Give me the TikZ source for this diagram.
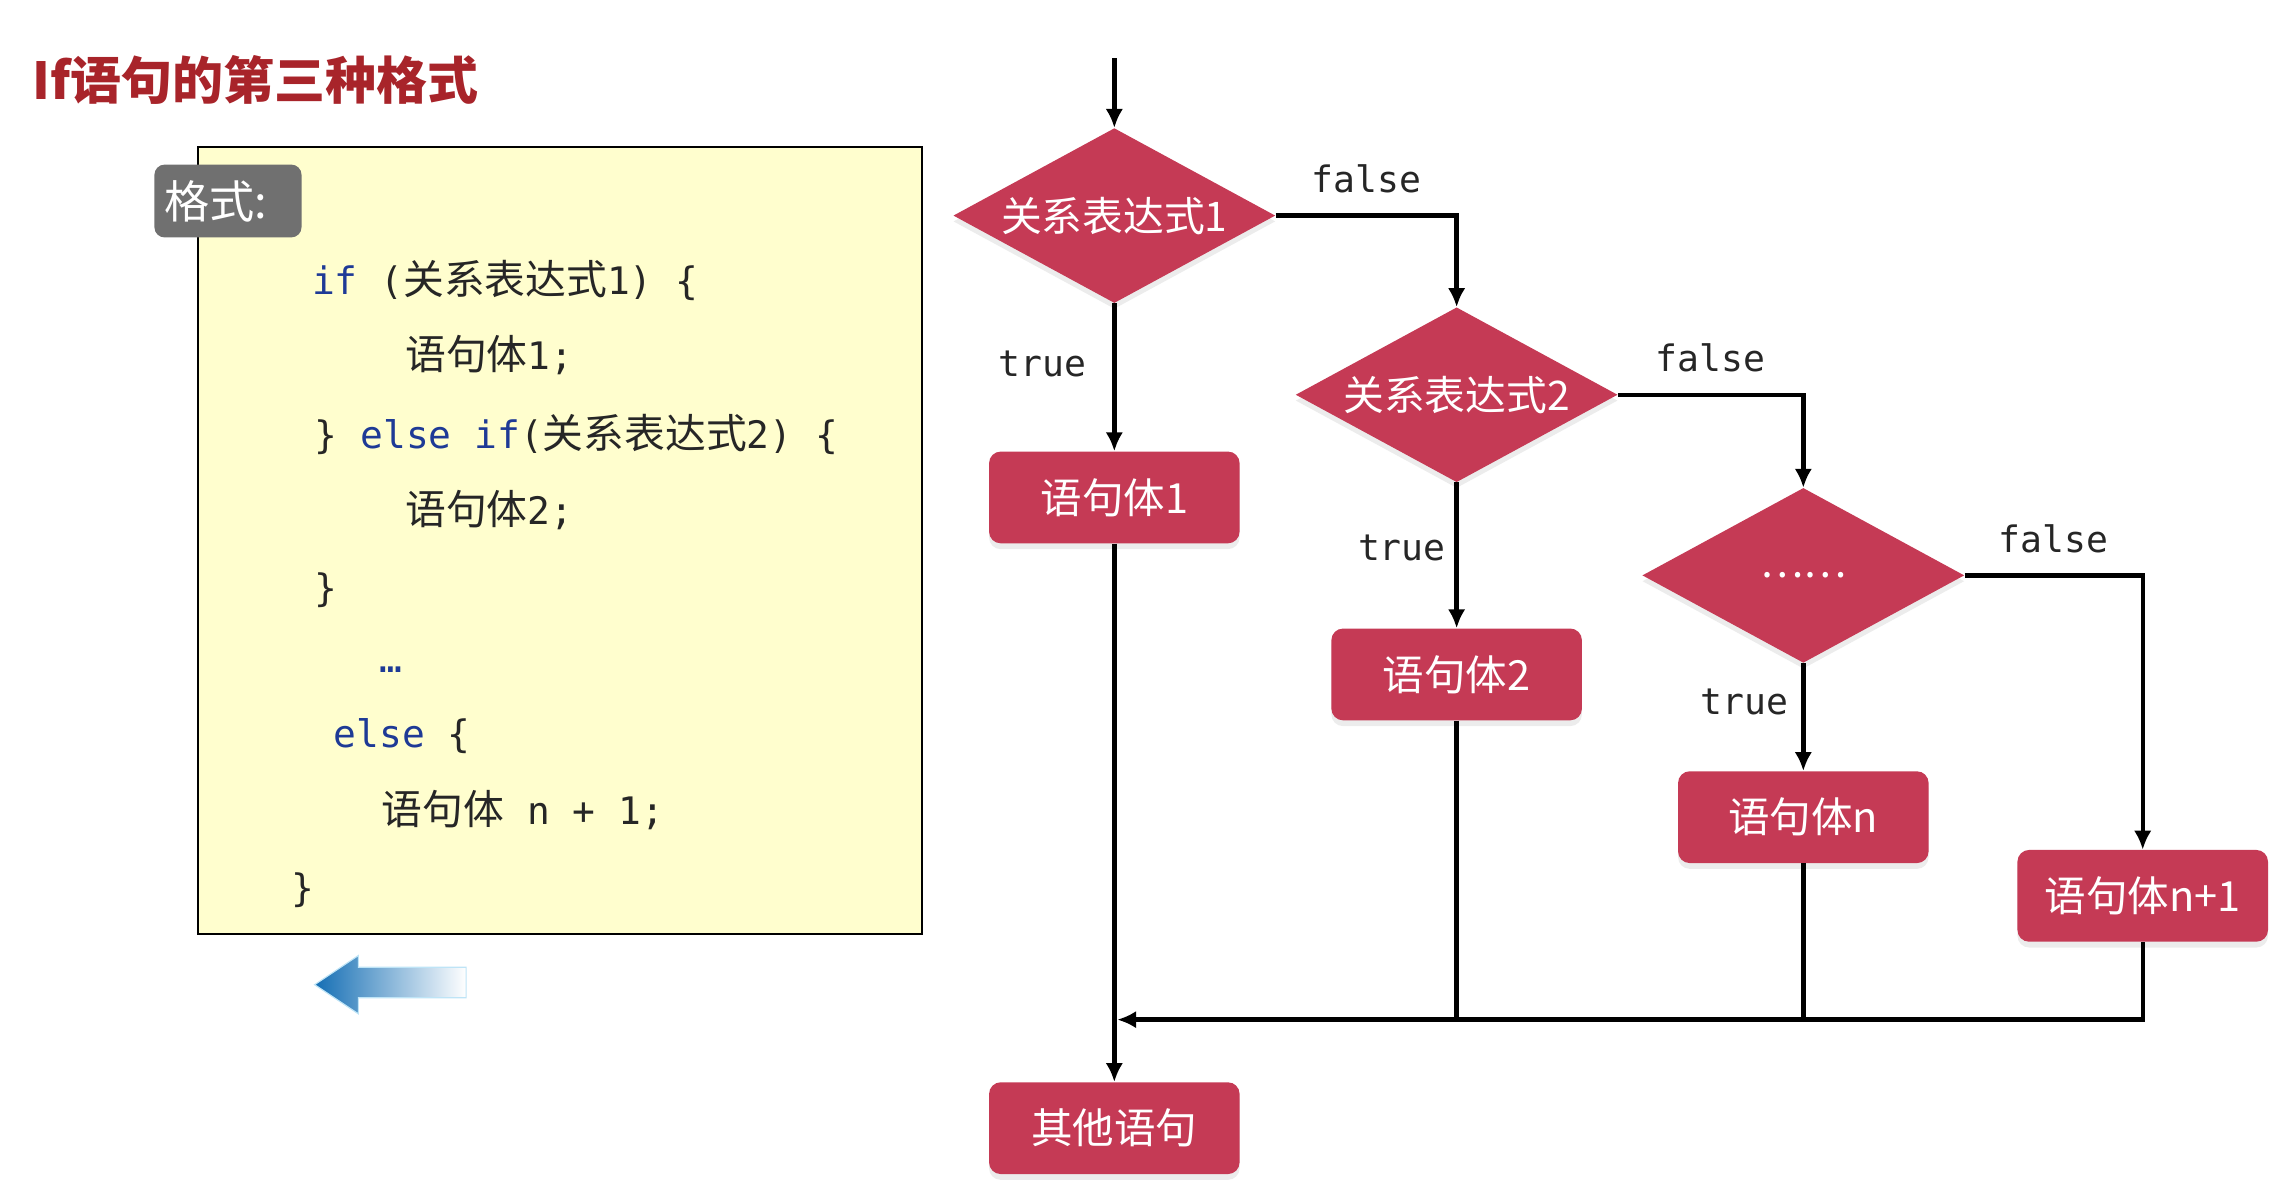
\documentclass[tikz,border=0pt]{standalone}
\usepackage{fontspec}
\usepackage{xcolor}
\usetikzlibrary{shapes.geometric,arrows.meta,shadows,positioning}

\newfontfamily\cjk{Noto Sans CJK SC}
\newfontfamily\mono{DejaVu Sans Mono}

\definecolor{flowred}{RGB}{197,58,85}
\definecolor{titlered}{RGB}{168,36,42}
\definecolor{codeblue}{RGB}{30,58,150}
\definecolor{panelyellow}{RGB}{255,254,206}
\definecolor{taggray}{RGB}{112,112,112}
\definecolor{arrowblue}{RGB}{20,110,180}
\definecolor{arrowcyan}{RGB}{40,165,225}

\newcommand\kw[1]{{\color{codeblue}#1}}
\newcommand\zh[1]{{\cjk\fontsize{28}{30}\selectfont #1}}

\tikzset{
	decision/.style={diamond, aspect=1.84, fill=flowred, inner sep=0pt,
		minimum width=221pt, minimum height=120pt, text=white,
		font=\cjk\fontsize{28}{30}\selectfont,
		drop shadow={shadow xshift=0pt, shadow yshift=-4pt, opacity=0.15}},
	stmt/.style={rectangle, rounded corners=8pt, fill=flowred,
		minimum width=172pt, minimum height=63pt, text=white,
		font=\cjk\fontsize{28.5}{30}\selectfont,
		drop shadow={shadow xshift=0pt, shadow yshift=-4pt, opacity=0.15}},
	flow/.style={line width=3pt, black},
	flowarr/.style={flow, -{Latex[length=13pt,width=12pt]}},
	cond/.style={font=\mono\fontsize{25}{30}\selectfont, text=black!85, inner sep=0pt},
	codeline/.style={anchor=base west, inner sep=0pt, text=black!85,
		font=\mono\fontsize{26}{30}\selectfont},
	tag/.style={rectangle, rounded corners=7pt, fill=taggray, text=white,
		minimum height=50pt, text width=87pt, align=left, inner xsep=7pt,
		font=\cjk\fontsize{31}{32}\selectfont},
}

\begin{document}
\begin{tikzpicture}[x=1pt,y=-1pt]
	\useasboundingbox (0,0) rectangle (1568,811);

	% left side: title and code panel
	\node[anchor=west, inner sep=0pt, text=titlered,
		font=\cjk\bfseries\fontsize{35}{40}\selectfont] (title) at (22,55) {If语句的第三种格式};
	\node[draw=black, line width=1.5pt, fill=panelyellow,
		minimum width=497pt, minimum height=540pt] (panel) at (384.5,371) {};
	\node[tag] (fmt) at (156.5,138) {格式:};

	\node[codeline] (c1) at (214,202) {\kw{if} (\zh{关系表达式}1) \{};
	\node[codeline] (c2) at (278,254) {\zh{语句体}1;};
	\node[codeline] (c3) at (216,308) {\} \kw{else if}(\zh{关系表达式}2) \{};
	\node[codeline] (c4) at (278,360) {\zh{语句体}2;};
	\node[codeline] (c5) at (216,413) {\}};
	\node[codeline] (c6) at (260,462) {\kw{…}};
	\node[codeline] (c7) at (229,513) {\kw{else} \{};
	\node[codeline] (c8) at (262,566) {\zh{语句体} n + 1;};
	\node[codeline] (c9) at (200,619) {\}};

	\shade[left color=arrowblue, middle color=arrowcyan, right color=white,
		draw=arrowcyan!30, line width=0.8pt]
		(216,676) -- (246,656) -- (246,664) -- (320,664) -- (320,685)
		-- (246,685) -- (246,696) -- cycle;

	% flow chart
	\coordinate (start) at (765,40);
	\node[decision] (d1) at (765,148) {关系表达式1};
	\node[decision] (d2) at (1000,271) {关系表达式2};
	\node[decision] (d3) at (1238,395) {……};
	\node[stmt] (b1) at (765,341.5) {语句体1};
	\node[stmt] (b2) at (1000,463) {语句体2};
	\node[stmt] (bn) at (1238,561) {语句体n};
	\node[stmt] (bn1) at (1471,615) {语句体n+1};
	\node[stmt] (other) at (765,774.5) {其他语句};
	\coordinate (mj) at (767,700);

	\draw[flowarr] (start) -- (d1.north);
	\draw[flowarr] (d1.east) -| node[cond, pos=0.25, above=14pt] {false} (d2.north);
	\draw[flowarr] (d2.east) -| node[cond, pos=0.25, above=14pt] {false} (d3.north);
	\draw[flowarr] (d3.east) -| node[cond, pos=0.25, above=14pt] {false} (bn1.north);
	\draw[flowarr] (d1.south) -- node[cond, pos=0.41, left=18pt] {true} (b1.north);
	\draw[flowarr] (d2.south) -- node[cond, pos=0.45, left=6pt] {true} (b2.north);
	\draw[flowarr] (d3.south) -- node[cond, pos=0.36, left=9pt] {true} (bn.north);

	\draw[flowarr] (b1.south) -- (other.north);
	\draw[flow] (b2.south) -- (b2.south |- mj);
	\draw[flow] (bn.south) -- (bn.south |- mj);
	\draw[flowarr] (bn1.south) |- (mj);
\end{tikzpicture}
\end{document}
